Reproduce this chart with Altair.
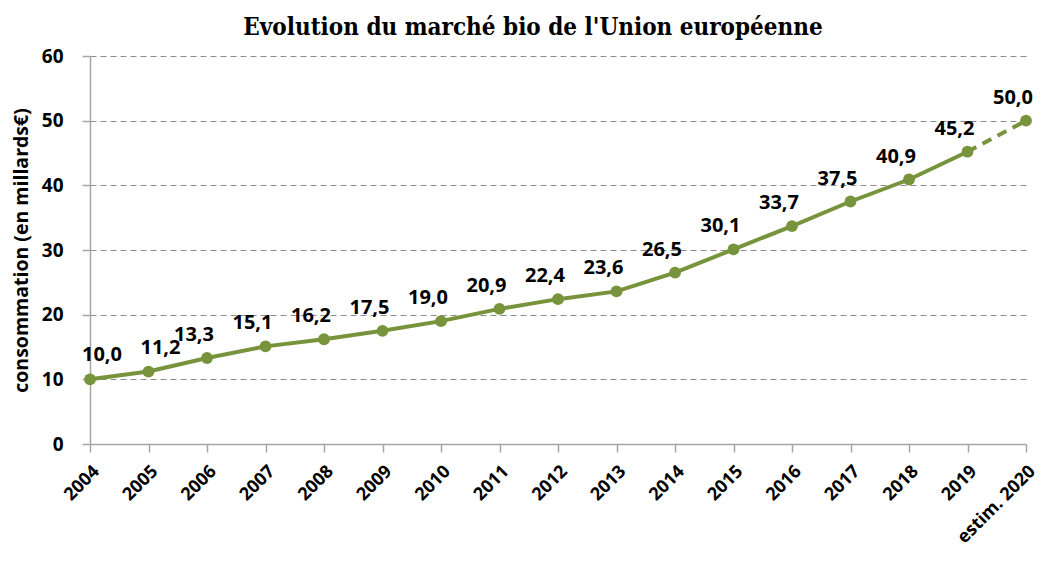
import altair as alt
import pandas as pd

years = ["2004", "2005", "2006", "2007", "2008", "2009", "2010", "2011", "2012",
         "2013", "2014", "2015", "2016", "2017", "2018", "2019", "estim. 2020"]
values = [10.0, 11.2, 13.3, 15.1, 16.2, 17.5, 19.0, 20.9, 22.4,
          23.6, 26.5, 30.1, 33.7, 37.5, 40.9, 45.2, 50.0]
y_ticks = [0, 10, 20, 30, 40, 50, 60]

df = pd.DataFrame({"annee": years, "valeur": values})
df["label"] = [f"{v:.1f}".replace(".", ",") for v in values]

GREEN = "#77933C"
FONT = "Open Sans"

x = alt.X("annee:N", sort=years,
          scale=alt.Scale(type="point", padding=0, domain=years),
          axis=alt.Axis(title=None, labelAngle=-45, labelFont=FONT, labelFontSize=18,
                        labelFontWeight="bold", labelColor="black", labelPadding=10,
                        labelAlign="right", labelBaseline="top",
                        tickSize=8, tickColor="#A6A6A6", domainColor="#A6A6A6",
                        labelOverlap=False, labelBound=False, grid=False))
y = alt.Y("valeur:Q",
          scale=alt.Scale(domain=[0, 60], nice=False, zero=True),
          axis=alt.Axis(title="consommation (en millards€)", values=y_ticks,
                        titleFont=FONT, titleFontSize=19.5, titleFontWeight="bold",
                        titleColor="black", titlePadding=10,
                        labelFont=FONT, labelFontSize=19, labelFontWeight="bold",
                        labelColor="black", labelPadding=19, tickSize=8,
                        tickColor="#A6A6A6", domainColor="#A6A6A6",
                        grid=True, gridColor="#8C8C8C", gridDash=[6, 4], gridWidth=1))

base = alt.Chart(df)

solid = base.transform_filter(alt.datum.annee != "estim. 2020").mark_line(
    color=GREEN, strokeWidth=4).encode(x=x, y=y)
dashed = base.transform_filter(
    (alt.datum.annee == "2019") | (alt.datum.annee == "estim. 2020")
).mark_line(color=GREEN, strokeWidth=4, strokeDash=[10, 7]).encode(x=x, y=y)
points = base.mark_point(filled=True, color=GREEN, size=140, opacity=1).encode(x=x, y=y)

txt_first = base.transform_filter(
    (alt.datum.annee == "2004") | (alt.datum.annee == "2005")
).mark_text(font=FONT, fontSize=20, fontWeight="bold", color="black",
            dx=12, dy=-24).encode(x=x, y=y, text="label:N")
txt_rest = base.transform_filter(
    (alt.datum.annee != "2004") & (alt.datum.annee != "2005")
).mark_text(font=FONT, fontSize=20, fontWeight="bold", color="black",
            dx=-13, dy=-23).encode(x=x, y=y, text="label:N")

chart = alt.layer(solid, dashed, points, txt_first, txt_rest).properties(
    width=936, height=388,
    title=alt.TitleParams("Evolution du marché bio de l'Union européenne",
                          font="DejaVu Serif Condensed", fontSize=24, fontWeight="bold",
                          color="black", anchor="middle", dx=-25, offset=7),
    autosize=alt.AutoSizeParams(type="none"),
    padding={"left": 82, "top": 48, "right": 13, "bottom": 106},
).configure_view(stroke=None).configure_axis(domainWidth=1.5, tickWidth=1.5)

chart.save("out.html", embed_options={"renderer": "svg", "actions": False})
